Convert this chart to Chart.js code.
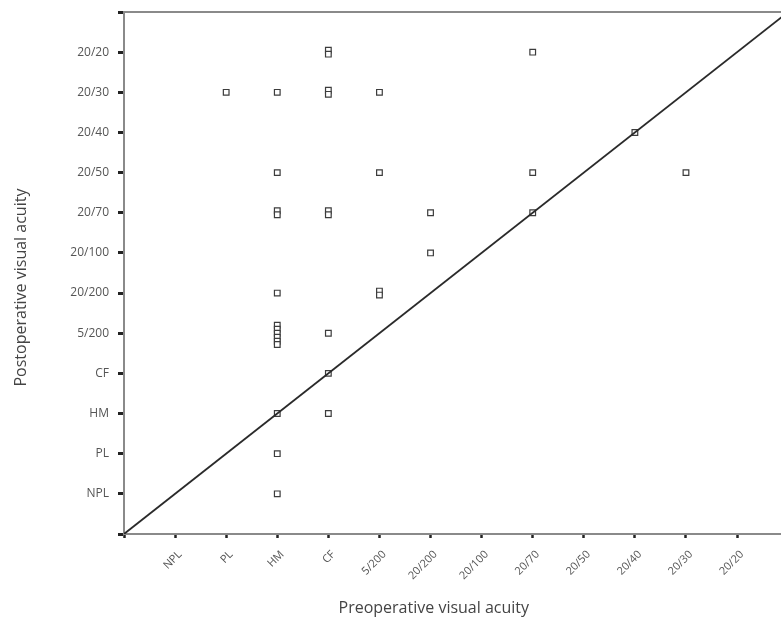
<!DOCTYPE html>
<html>
<head>
<meta charset="utf-8">
<script src="https://cdn.jsdelivr.net/npm/chart.js@4.4.0/dist/chart.umd.min.js"></script>
<style>
  html, body { margin: 0; padding: 0; background: #fff; }
  #wrap { width: 781px; height: 624px; }
</style>
</head>
<body>
<div id="wrap"><canvas id="myChart" width="781" height="624"></canvas></div>
<script>
// Visual acuity categories, in order (1 = NPL ... 12 = 20/20)
let acuityLabels = ['NPL', 'PL', 'HM', 'CF', '5/200', '20/200', '20/100', '20/70', '20/50', '20/40', '20/30', '20/20'];

// One entry per eye: preoperative and postoperative acuity (category index,
// small offsets where the original plot shows overlapping markers)
let preop  = [8, 4, 4, 2, 3, 4, 4, 5, 10, 3, 5, 8, 11, 3, 3, 4, 4, 6, 8, 6, 5, 5, 3, 3, 3, 3, 3, 3, 3, 4, 4, 3, 4, 3, 3];
let postop = [12, 12.05, 11.95, 11, 11, 11.05, 10.95, 11, 10, 9, 9, 9, 9, 8.05, 7.95, 8.05, 7.95, 8, 8, 7, 6.05, 5.95, 6,
              5.2, 5.1, 5.0, 4.9, 4.8, 4.72, 5, 4, 3, 3, 2, 1];

// Line of no change (pre = post)
let diagonal = [0, 13];

let xMax = 12.86;
let yMax = 13;

let tickColor = '#555';
let titleColor = '#444';
let fontFamily = '"Open Sans", "Liberation Sans", sans-serif';

/**
 * Builds the scatter point list from the two arrays
 */
function buildPoints(xs, ys) {
    let pts = [];
    for (var i = 0; i < xs.length; i++) {
        pts.push({x: xs[i], y: ys[i]});
    }
    return pts;
}

function catLabel(value) {
    if (value >= 1 && value <= acuityLabels.length && Number.isInteger(value)) {
        return acuityLabels[value - 1];
    }
    return '';
}

// Draws the frame line along the top of the plot area
const topBorder = {
    id: 'topBorder',
    afterDraw(chart) {
        let ctx = chart.ctx;
        let area = chart.chartArea;
        ctx.save();
        ctx.strokeStyle = '#8a8a8a';
        ctx.lineWidth = 2;
        ctx.beginPath();
        ctx.moveTo(area.left, area.top);
        ctx.lineTo(chart.width, area.top);
        ctx.stroke();
        ctx.restore();
    }
};

let ctx = document.getElementById('myChart').getContext('2d');
window.myChart = new Chart(ctx, {
    type: 'scatter',
    data: {
        datasets: [{
            type: 'line',
            data: buildPoints(diagonal, diagonal),
            borderColor: '#2a2a2a',
            borderWidth: 1.8,
            pointRadius: 0,
            fill: false
        }, {
            data: buildPoints(preop, postop),
            pointStyle: 'rect',
            pointRadius: 4,
            pointBorderWidth: 1.2,
            borderColor: '#3c3c3c',
            backgroundColor: '#ffffff'
        }]
    },
    options: {
        responsive: false,
        animation: false,
        events: [],
        layout: { autoPadding: false, padding: { top: 12, right: 0, left: 0, bottom: 0 } },
        plugins: {
            legend: { display: false },
            tooltip: { enabled: false }
        },
        scales: {
            x: {
                type: 'linear',
                min: 0,
                max: xMax,
                afterFit: function (scale) {
                    scale.height = 90;
                    scale.paddingLeft = 0;
                    scale.paddingRight = 0;
                },
                afterBuildTicks: function (scale) {
                    scale.ticks = scale.ticks.filter(t => Number.isInteger(t.value));
                },
                ticks: {
                    stepSize: 1,
                    autoSkip: false,
                    minRotation: 45,
                    maxRotation: 45,
                    padding: 10,
                    labelOffset: 5,
                    color: tickColor,
                    font: { family: fontFamily, size: 11 },
                    callback: catLabel
                },
                grid: {
                    drawOnChartArea: false,
                    drawTicks: true,
                    tickLength: 4,
                    tickColor: '#222',
                    tickWidth: 2.5
                },
                border: { display: true, color: '#8a8a8a', width: 2 },
                title: {
                    display: true,
                    // trailing spaces nudge the centred title left, as in the original
                    text: 'Preoperative visual acuity' + ' '.repeat(9),
                    color: titleColor,
                    font: { family: fontFamily, size: 16 },
                    padding: { top: 0, bottom: 6 }
                }
            },
            y: {
                type: 'linear',
                min: 0,
                max: yMax,
                afterFit: function (scale) {
                    scale.width = 124;
                    scale.paddingTop = 0;
                    scale.paddingBottom = 0;
                },
                afterBuildTicks: function (scale) {
                    scale.ticks = scale.ticks.filter(t => Number.isInteger(t.value));
                },
                ticks: {
                    stepSize: 1,
                    autoSkip: false,
                    padding: 9,
                    color: tickColor,
                    font: { family: fontFamily, size: 12 },
                    callback: catLabel
                },
                grid: {
                    drawOnChartArea: false,
                    drawTicks: true,
                    tickLength: 6,
                    tickColor: '#222',
                    tickWidth: 3
                },
                border: { display: true, color: '#8a8a8a', width: 2 },
                title: {
                    display: true,
                    text: 'Postoperative visual acuity' + ' '.repeat(7),
                    color: titleColor,
                    font: { family: fontFamily, size: 16 },
                    padding: { top: 12, bottom: 0 }
                }
            }
        }
    },
    plugins: [topBorder]
});
</script>
</body>
</html>
